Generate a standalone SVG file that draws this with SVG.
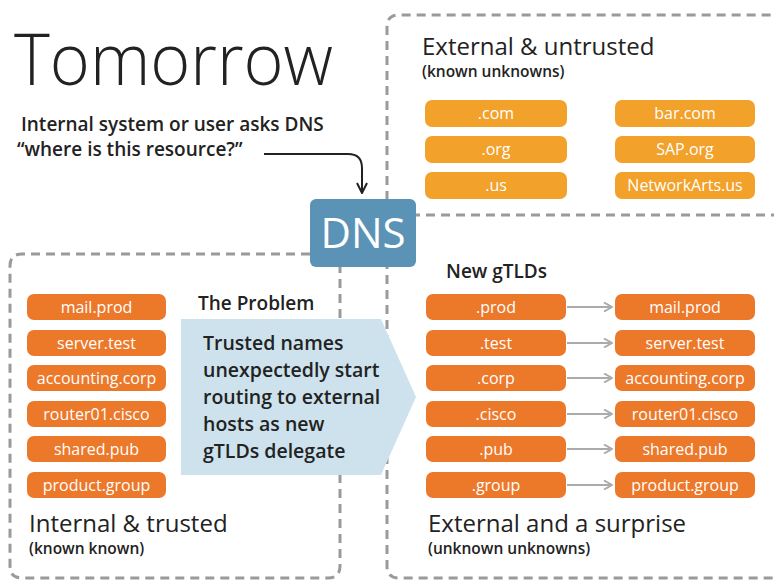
<svg xmlns="http://www.w3.org/2000/svg" width="774" height="583" viewBox="0 0 774 583">
  <defs>
    <style>
      text { font-family: "Open Sans", "Noto Sans", "Liberation Sans", sans-serif; fill: #222; }
      .title { font-size: 72px; font-weight: 300; }
      .lead { font-size: 19px; font-weight: 600; }
      .zone { font-size: 24px; }
      .sub { font-size: 15.5px; font-weight: 600; }
      .head { font-size: 19px; font-weight: 600; }
      .note { font-size: 19.5px; font-weight: 600; }
      .pill-text { font-size: 16px; fill: #fff; text-anchor: middle; }
      .dns-text { font-size: 42px; fill: #fff; text-anchor: middle; }
      .zone-box { fill: none; stroke: #9a9a9a; stroke-width: 3; stroke-dasharray: 9 6; }
      .pill-light { fill: #f2a12a; }
      .pill-dark { fill: #ec782a; }
      .link { fill: none; stroke: #ababab; stroke-width: 2; }
      .ask { fill: none; stroke: #222; stroke-width: 2; }
    </style>
    <marker id="grayHead" viewBox="0 0 10 10" refX="9" refY="5" markerWidth="10" markerHeight="10" markerUnits="userSpaceOnUse" orient="auto">
      <path d="M1 0.5 L9 5 L1 9.5" fill="none" stroke="#ababab" stroke-width="2"/>
    </marker>
    <marker id="darkHead" viewBox="0 0 12 12" refX="11" refY="6" markerWidth="12" markerHeight="12" markerUnits="userSpaceOnUse" orient="auto">
      <path d="M1 1 L11 6 L1 11" fill="none" stroke="#222" stroke-width="2"/>
    </marker>
  </defs>

  <rect width="774" height="583" fill="#fff"/>

  <!-- zone outlines -->
  <g id="zones">
    <path class="zone-box" d="M387 215 V27 Q387 15 399 15 H780"/>
    <path class="zone-box" d="M780 215 H387"/>
    <path class="zone-box" d="M387 215 V566 Q387 578 399 578 H780"/>
    <path class="zone-box" d="M340 254 H22 Q10 254 10 266 V566 Q10 578 22 578 H328 Q340 578 340 566 V254"/>
  </g>

  <!-- heading and question -->
  <g id="heading">
    <text class="title" x="14" y="85" textLength="319" lengthAdjust="spacingAndGlyphs">Tomorrow</text>
    <text class="lead" x="21" y="131">Internal system or user asks DNS</text>
    <text class="lead" x="17" y="156">“where is this resource?”</text>
  </g>

  <!-- connectors -->
  <g id="connectors">
    <path class="ask" d="M264 154 H348 Q362 154 362 168 V193" marker-end="url(#darkHead)"/>
    <path class="link" d="M567 307 H612" marker-end="url(#grayHead)"/>
    <path class="link" d="M567 343 H612" marker-end="url(#grayHead)"/>
    <path class="link" d="M567 378 H612" marker-end="url(#grayHead)"/>
    <path class="link" d="M567 414 H612" marker-end="url(#grayHead)"/>
    <path class="link" d="M567 449 H612" marker-end="url(#grayHead)"/>
    <path class="link" d="M567 485 H612" marker-end="url(#grayHead)"/>
  </g>

  <!-- DNS resolver -->
  <g id="dns">
    <rect x="310" y="199" width="106" height="68" rx="6" fill="#5b93b6"/>
    <text class="dns-text" x="363" y="248">DNS</text>
  </g>

  <!-- external & untrusted -->
  <g id="external-untrusted">
    <text class="zone" x="422" y="55">External &amp; untrusted</text>
    <text class="sub" x="422" y="77">(known unknowns)</text>
  </g>
  <g id="tld-com"><rect class="pill-light" x="425" y="100" width="142" height="27" rx="7"/><text class="pill-text" x="496" y="119">.com</text></g>
  <g id="tld-org"><rect class="pill-light" x="425" y="136" width="142" height="27" rx="7"/><text class="pill-text" x="496" y="155">.org</text></g>
  <g id="tld-us"><rect class="pill-light" x="425" y="172" width="142" height="27" rx="7"/><text class="pill-text" x="496" y="191">.us</text></g>
  <g id="host-bar"><rect class="pill-light" x="615" y="100" width="140" height="27" rx="7"/><text class="pill-text" x="685" y="119">bar.com</text></g>
  <g id="host-sap"><rect class="pill-light" x="615" y="136" width="140" height="27" rx="7"/><text class="pill-text" x="685" y="155">SAP.org</text></g>
  <g id="host-networkarts"><rect class="pill-light" x="615" y="172" width="140" height="27" rx="7"/><text class="pill-text" x="685" y="191">NetworkArts.us</text></g>

  <!-- internal & trusted -->
  <g id="internal-trusted">
    <text class="zone" x="29" y="532">Internal &amp; trusted</text>
    <text class="sub" x="29" y="554">(known known)</text>
  </g>
  <g id="int-mail"><rect class="pill-dark" x="27" y="294" width="139" height="26" rx="7"/><text class="pill-text" x="96.5" y="312.5">mail.prod</text></g>
  <g id="int-server"><rect class="pill-dark" x="27" y="330" width="139" height="26" rx="7"/><text class="pill-text" x="96.5" y="348.5">server.test</text></g>
  <g id="int-accounting"><rect class="pill-dark" x="27" y="365" width="139" height="26" rx="7"/><text class="pill-text" x="96.5" y="383.5">accounting.corp</text></g>
  <g id="int-router"><rect class="pill-dark" x="27" y="401" width="139" height="26" rx="7"/><text class="pill-text" x="96.5" y="419.5">router01.cisco</text></g>
  <g id="int-shared"><rect class="pill-dark" x="27" y="436" width="139" height="26" rx="7"/><text class="pill-text" x="96.5" y="454.5">shared.pub</text></g>
  <g id="int-product"><rect class="pill-dark" x="27" y="472" width="139" height="26" rx="7"/><text class="pill-text" x="96.5" y="490.5">product.group</text></g>

  <!-- the problem -->
  <g id="problem">
    <text class="head" x="198" y="310">The Problem</text>
    <path d="M181 319 H381 L416 397 L381 475 H181 Z" fill="#cde2ed"/>
    <text class="note" x="203" y="350">Trusted names</text>
    <text class="note" x="203" y="377">unexpectedly start</text>
    <text class="note" x="203" y="404">routing to external</text>
    <text class="note" x="203" y="431">hosts as new</text>
    <text class="note" x="203" y="458">gTLDs delegate</text>
  </g>

  <!-- external and a surprise -->
  <g id="external-surprise">
    <text class="head" x="446" y="278">New gTLDs</text>
    <text class="zone" x="428" y="532">External and a surprise</text>
    <text class="sub" x="428" y="554">(unknown unknowns)</text>
  </g>
  <g id="gtld-prod"><rect class="pill-dark" x="426" y="294" width="140" height="26" rx="7"/><text class="pill-text" x="496" y="312.5">.prod</text></g>
  <g id="gtld-test"><rect class="pill-dark" x="426" y="330" width="140" height="26" rx="7"/><text class="pill-text" x="496" y="348.5">.test</text></g>
  <g id="gtld-corp"><rect class="pill-dark" x="426" y="365" width="140" height="26" rx="7"/><text class="pill-text" x="496" y="383.5">.corp</text></g>
  <g id="gtld-cisco"><rect class="pill-dark" x="426" y="401" width="140" height="26" rx="7"/><text class="pill-text" x="496" y="419.5">.cisco</text></g>
  <g id="gtld-pub"><rect class="pill-dark" x="426" y="436" width="140" height="26" rx="7"/><text class="pill-text" x="496" y="454.5">.pub</text></g>
  <g id="gtld-group"><rect class="pill-dark" x="426" y="472" width="140" height="26" rx="7"/><text class="pill-text" x="496" y="490.5">.group</text></g>
  <g id="ext-mail"><rect class="pill-dark" x="615" y="294" width="140" height="26" rx="7"/><text class="pill-text" x="685" y="312.5">mail.prod</text></g>
  <g id="ext-server"><rect class="pill-dark" x="615" y="330" width="140" height="26" rx="7"/><text class="pill-text" x="685" y="348.5">server.test</text></g>
  <g id="ext-accounting"><rect class="pill-dark" x="615" y="365" width="140" height="26" rx="7"/><text class="pill-text" x="685" y="383.5">accounting.corp</text></g>
  <g id="ext-router"><rect class="pill-dark" x="615" y="401" width="140" height="26" rx="7"/><text class="pill-text" x="685" y="419.5">router01.cisco</text></g>
  <g id="ext-shared"><rect class="pill-dark" x="615" y="436" width="140" height="26" rx="7"/><text class="pill-text" x="685" y="454.5">shared.pub</text></g>
  <g id="ext-product"><rect class="pill-dark" x="615" y="472" width="140" height="26" rx="7"/><text class="pill-text" x="685" y="490.5">product.group</text></g>
</svg>
